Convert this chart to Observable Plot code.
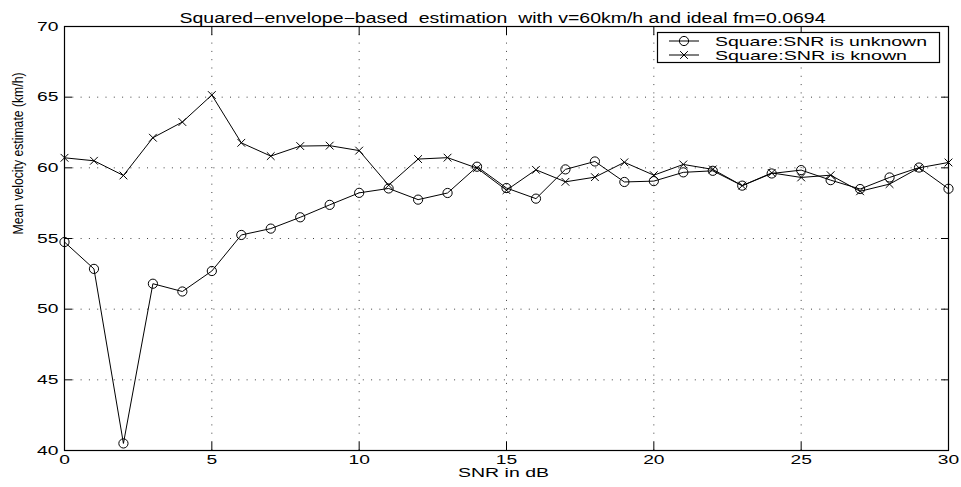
<!DOCTYPE html>
<html>
<head>
<meta charset="utf-8">
<script src="https://cdn.jsdelivr.net/npm/d3@7"></script>
<script src="https://cdn.jsdelivr.net/npm/@observablehq/plot@0.6"></script>
<style>
  body { margin: 0; background: #fff; }
  #chart { width: 961px; height: 487px; }
</style>
</head>
<body>
<div id="chart"></div>
<script>
// SNR sweep in dB
const snr = [0, 1, 2, 3, 4, 5, 6, 7, 8, 9, 10, 11, 12, 13, 14, 15, 16, 17, 18, 19, 20, 21, 22, 23, 24, 25, 26, 27, 28, 29, 30];

// Mean velocity estimate (km/h), SNR not known to the estimator
const unknownSNR = [54.75, 52.85, 40.5, 51.8, 51.25, 52.7, 55.25, 55.7, 56.5, 57.38, 58.23, 58.54, 57.75, 58.22, 60.08, 58.57, 57.82, 59.89, 60.45, 59.0, 59.06, 59.68, 59.79, 58.74, 59.6, 59.84, 59.13, 58.5, 59.32, 60.02, 58.52];

// Mean velocity estimate (km/h), SNR known to the estimator
const knownSNR = [60.71, 60.5, 59.46, 62.13, 63.24, 65.15, 61.77, 60.83, 61.54, 61.57, 61.22, 58.77, 60.62, 60.72, 59.98, 58.42, 59.86, 59.01, 59.34, 60.39, 59.48, 60.24, 59.89, 58.74, 59.64, 59.32, 59.48, 58.34, 58.85, 60.0, 60.38];

const seriesNames = ["Square:SNR is unknown", "Square:SNR is known"];
const xTicks = [0, 5, 10, 15, 20, 25, 30];
const yTicks = [40, 45, 50, 55, 60, 65, 70];
const xGrid = [5, 10, 15, 20, 25];
const yGrid = [45, 50, 55, 60, 65];

const titleText = "Squared\u2212envelope\u2212based  estimation  with v=60km/h and ideal fm=0.0694";
const xLabel = "SNR in dB";
const yLabel = "Mean velocity estimate (km/h)";

const unknownRows = snr.map((s, i) => ({snr: s, v: unknownSNR[i], series: seriesNames[0]}));
const knownRows = snr.map((s, i) => ({snr: s, v: knownSNR[i], series: seriesNames[1]}));

const dotted = {stroke: "#000", strokeOpacity: 0.75, strokeDasharray: "1,7.3"};
const font = "'Liberation Sans', Arial, sans-serif";

const chart = Plot.plot({
  width: 961,
  height: 487,
  marginLeft: 64,
  marginRight: 13,
  marginTop: 26,
  marginBottom: 37,
  style: {fontFamily: font, fontSize: "12px", background: "#fff", color: "#000"},
  x: {domain: [0, 30], label: null},
  y: {domain: [40, 70], label: null},
  marks: [
    Plot.gridX(xGrid, dotted),
    Plot.gridY(yGrid, dotted),
    // inward ticks on all four sides
    Plot.axisX(xTicks, {anchor: "bottom", tickSize: -8, tickFormat: () => "", label: null}),
    Plot.axisX(xTicks, {anchor: "top", tickSize: -8, tickFormat: () => "", label: null}),
    Plot.axisY(yTicks, {anchor: "left", tickSize: -8, tickFormat: () => "", label: null}),
    Plot.axisY(yTicks, {anchor: "right", tickSize: -8, tickFormat: () => "", label: null}),
    // tick labels
    Plot.axisX(xTicks, {anchor: "bottom", tickSize: 0, tickPadding: 5, label: null, fontSize: 12}),
    Plot.axisY(yTicks, {anchor: "left", tickSize: 0, tickPadding: 6, label: null, fontSize: 12.5}),
    Plot.frame({stroke: "#000", strokeWidth: 1.2}),
    Plot.line(unknownRows, {x: "snr", y: "v", stroke: "#000", strokeWidth: 1}),
    Plot.line(knownRows, {x: "snr", y: "v", stroke: "#000", strokeWidth: 1}),
    Plot.dot(unknownRows, {x: "snr", y: "v", r: 4.6, stroke: "#000", fill: "none", strokeWidth: 1}),
    Plot.dot(knownRows, {x: "snr", y: "v", symbol: "times", r: 3.6, stroke: "#000", strokeWidth: 1}),
    Plot.text([titleText], {text: d => d, frameAnchor: "top", dy: -13, dx: -4, fontSize: 14}),
    Plot.text([xLabel], {text: d => d, frameAnchor: "bottom", dy: 26, dx: -3, fontSize: 12}),
    Plot.text([yLabel], {text: d => d, frameAnchor: "left", rotate: -90, dx: -46, dy: -4, fontSize: 14})
  ]
});

document.getElementById("chart").appendChild(chart);

// Widen the Helvetica-style lettering to its printed proportions
const svg = d3.select(chart);
const widths = new Map([[titleText, 646], [xLabel, 91], [yLabel, 162]]);
svg.selectAll("text").each(function () {
  const t = this.textContent;
  if (!t) return;
  const w = widths.has(t) ? widths.get(t) : (/^\d+$/.test(t) ? 10.7 * t.length : null);
  if (w) {
    this.setAttribute("textLength", w);
    this.setAttribute("lengthAdjust", "spacingAndGlyphs");
    this.setAttribute("xml:space", "preserve");
    this.style.whiteSpace = "pre";
  }
});

// Legend box in the upper right corner of the axes
const legend = svg.append("g")
  .attr("font-family", font).attr("font-size", 13).attr("text-anchor", "start");
legend.append("rect").attr("x", 657.5).attr("y", 32.5).attr("width", 282).attr("height", 30)
  .attr("fill", "#fff").attr("stroke", "#000").attr("stroke-width", 1.2);
const rows = [
  {name: seriesNames[0], y: 41, w: 212, marker: "circle"},
  {name: seriesNames[1], y: 55, w: 192, marker: "times"}
];
rows.forEach(r => {
  legend.append("line").attr("x1", 669).attr("x2", 699).attr("y1", r.y).attr("y2", r.y).attr("stroke", "#000");
  if (r.marker === "circle") {
    legend.append("circle").attr("cx", 684).attr("cy", r.y).attr("r", 4.6).attr("fill", "none").attr("stroke", "#000");
  } else {
    legend.append("path").attr("transform", `translate(684,${r.y})`)
      .attr("d", d3.symbol(d3.symbolTimes, Math.PI * 3.6 * 3.6)()).attr("fill", "none").attr("stroke", "#000");
  }
  legend.append("text").attr("x", 715).attr("y", r.y).attr("dy", "0.35em")
    .attr("text-anchor", "start")
    .attr("textLength", r.w).attr("lengthAdjust", "spacingAndGlyphs").text(r.name);
});
</script>
</body>
</html>
